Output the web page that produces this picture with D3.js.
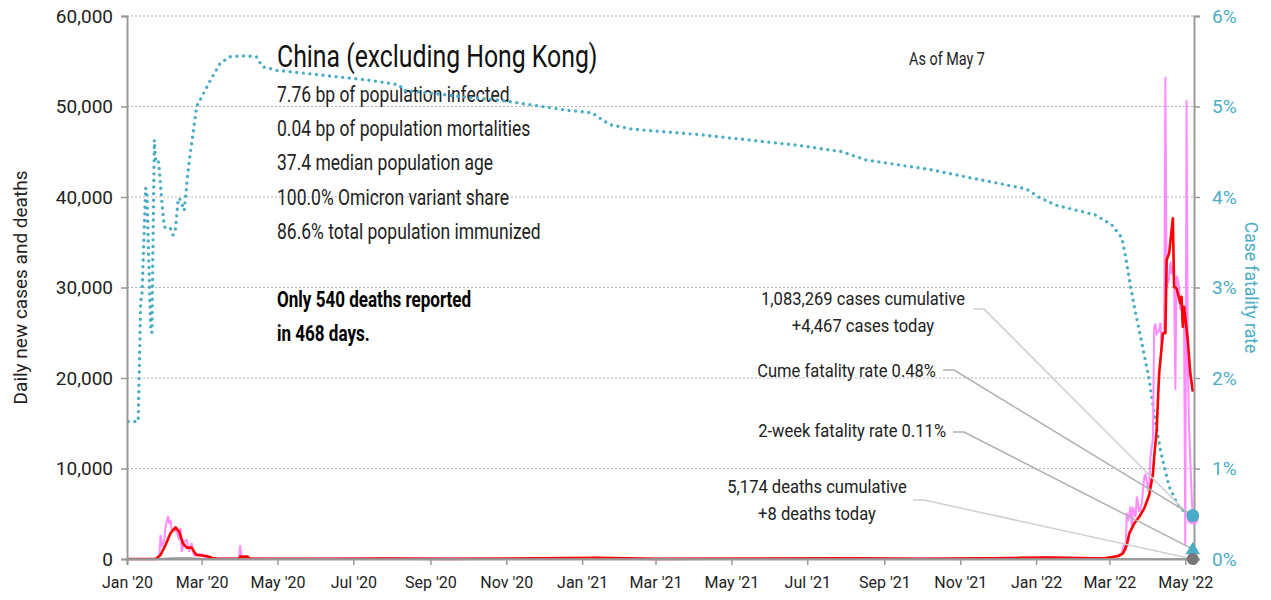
<!DOCTYPE html>
<html>
<head>
<meta charset="utf-8">
<script src="https://cdn.jsdelivr.net/npm/d3@7"></script>
<style>
	body { margin: 0; background: #fff; }
	text { font-family: Roboto, "Noto Sans", sans-serif; }
</style>
</head>
<body>
<div class="chart"></div>
<script>
// ---- values ----
var titleText = 'China (excluding Hong Kong)';
var asOfText = 'As of May 7';
var infoLines = [
	'7.76 bp of population infected',
	'0.04 bp of population mortalities',
	'37.4 median population age',
	'100.0% Omicron variant share',
	'86.6% total population immunized'
];
var noteLines = ['Only 540 deaths reported', 'in 468 days.'];

var casesCume = 1083269;
var casesToday = 4467;
var deathsCume = 5174;
var deathsToday = 8;
var cfrCume = 0.48;
var cfr2wk = 0.11;

var leftTicks = [0, 10000, 20000, 30000, 40000, 50000, 60000];
var rightTicks = [0, 1, 2, 3, 4, 5, 6];
var xTicks = ['2020-01-01', '2020-03-01', '2020-05-01', '2020-07-01', '2020-09-01', '2020-11-01',
	'2021-01-01', '2021-03-01', '2021-05-01', '2021-07-01', '2021-09-01', '2021-11-01',
	'2022-01-01', '2022-03-01', '2022-05-01'];

// daily new cases (pink)
var casesDates = ['2020-01-01', '2020-01-24', '2020-01-27', '2020-01-28', '2020-01-29', '2020-01-31',
	'2020-02-01', '2020-02-03', '2020-02-04', '2020-02-05', '2020-02-06', '2020-02-08', '2020-02-10',
	'2020-02-12', '2020-02-13', '2020-02-14', '2020-02-16', '2020-02-18', '2020-02-19', '2020-02-20',
	'2020-02-22', '2020-02-23', '2020-02-24', '2020-02-27', '2020-03-01', '2020-03-03', '2020-03-07',
	'2020-03-11', '2020-03-19', '2020-03-31', '2020-04-01', '2020-04-02', '2020-04-09', '2020-05-01',
	'2020-06-15', '2020-07-28', '2020-09-15', '2020-12-20', '2021-01-12', '2021-01-20', '2021-03-01',
	'2021-06-10', '2021-08-05', '2021-10-01', '2021-11-05', '2021-12-20', '2022-01-10', '2022-02-15',
	'2022-03-01', '2022-03-08', '2022-03-11', '2022-03-13', '2022-03-14', '2022-03-15', '2022-03-16',
	'2022-03-18', '2022-03-19', '2022-03-20', '2022-03-22', '2022-03-23', '2022-03-25', '2022-03-27',
	'2022-03-29', '2022-03-30', '2022-04-01', '2022-04-02', '2022-04-03', '2022-04-05', '2022-04-06',
	'2022-04-07', '2022-04-08', '2022-04-10', '2022-04-11', '2022-04-12', '2022-04-13', '2022-04-14',
	'2022-04-15', '2022-04-16', '2022-04-18', '2022-04-19', '2022-04-20', '2022-04-21', '2022-04-22',
	'2022-04-23', '2022-04-24', '2022-04-25', '2022-04-26', '2022-04-27', '2022-04-28', '2022-04-29',
	'2022-04-30', '2022-05-01', '2022-05-02', '2022-05-03', '2022-05-04', '2022-05-05', '2022-05-06',
	'2022-05-07'];
var casesValues = [0, 0, 300, 2650, 1360, 2100,
	3570, 4750, 3900, 4310, 3200, 3200, 3020,
	2100, 3425, 800, 1910, 2100, 1400, 800,
	1770, 800, 400, 550, 500, 250, 150,
	50, 30, 30, 1550, 100, 60, 10,
	40, 100, 15, 20, 140, 110, 10,
	25, 120, 30, 70, 150, 200, 100,
	150, 300, 700, 1750, 900, 5100, 4200,
	5800, 3600, 5700, 4600, 6900, 5200, 6100,
	9100, 9300, 7800, 8200, 11300, 13400, 25600,
	26000, 24900, 25300, 26100, 23000, 24900, 25200,
	53300, 30100, 31000, 32850, 31500, 32400, 30600,
	18700, 31300, 30900, 30100, 27500, 28500, 27500,
	26000, 1500, 50700, 22000, 14600, 11000, 7500,
	4467];

// 7-day average of new cases (red)
var avgDates = ['2020-01-01', '2020-01-24', '2020-01-28', '2020-02-01', '2020-02-05', '2020-02-09',
	'2020-02-12', '2020-02-15', '2020-02-18', '2020-02-22', '2020-02-24', '2020-02-26', '2020-03-05',
	'2020-03-09', '2020-03-13', '2020-03-31', '2020-04-01', '2020-04-07', '2020-04-09', '2020-06-15',
	'2020-07-28', '2020-09-15', '2021-01-12', '2021-01-25', '2021-03-01', '2021-08-05', '2021-10-01',
	'2021-12-20', '2022-01-10', '2022-02-15', '2022-02-25', '2022-03-08', '2022-03-12', '2022-03-15',
	'2022-03-17', '2022-03-21', '2022-03-25', '2022-03-29', '2022-04-02', '2022-04-05', '2022-04-06',
	'2022-04-08', '2022-04-09', '2022-04-10', '2022-04-12', '2022-04-13', '2022-04-15', '2022-04-16',
	'2022-04-18', '2022-04-21', '2022-04-22', '2022-04-24', '2022-04-25', '2022-04-27', '2022-04-28',
	'2022-04-29', '2022-04-30', '2022-05-03', '2022-05-05', '2022-05-07'];
var avgValues = [0, 0, 440, 1550, 2870, 3500,
	3020, 1730, 1260, 1260, 810, 440, 330,
	145, 20, 30, 260, 260, 30, 20,
	60, 15, 120, 100, 10, 90, 30,
	120, 170, 90, 80, 330, 630, 1550,
	2840, 3940, 4670, 5600, 7070, 9470, 11300,
	14250, 17570, 20520, 23460, 24940, 24940, 33040,
	33780, 37650, 30090, 29910, 29360, 28250, 28980,
	25670, 27880, 24200, 20550, 18490];

// daily deaths (gray)
var deathDates = ['2020-01-01', '2020-01-24', '2020-02-01', '2020-02-10', '2020-02-20', '2020-03-01',
	'2020-03-15', '2020-04-01', '2020-05-01', '2022-03-15', '2022-04-20', '2022-05-07'];
var deathValues = [0, 0, 45, 100, 115, 40, 10, 5, 0, 0, 10, 8];

// case fatality rate, percent (teal dotted)
var cfrDates = ['2020-01-02', '2020-01-10', '2020-01-12', '2020-01-13', '2020-01-16', '2020-01-17',
	'2020-01-20', '2020-01-21', '2020-01-23', '2020-01-24', '2020-01-26', '2020-01-27', '2020-01-29',
	'2020-01-31', '2020-02-03', '2020-02-05', '2020-02-07', '2020-02-09', '2020-02-11', '2020-02-12',
	'2020-02-14', '2020-02-16', '2020-02-17', '2020-02-19', '2020-02-21', '2020-02-23', '2020-02-26',
	'2020-03-02', '2020-03-08', '2020-03-16', '2020-03-24', '2020-04-05', '2020-04-14', '2020-04-19',
	'2020-04-30', '2020-05-21', '2020-07-14', '2020-08-07', '2020-08-10', '2020-10-02', '2020-10-27',
	'2020-12-19', '2021-01-09', '2021-01-23', '2021-02-10', '2021-04-05', '2021-06-24', '2021-07-29',
	'2021-08-17', '2021-10-09', '2021-11-10', '2021-12-02', '2021-12-24', '2022-01-03', '2022-01-17',
	'2022-02-18', '2022-03-03', '2022-03-11', '2022-03-14', '2022-03-18', '2022-03-22', '2022-03-27',
	'2022-04-02', '2022-04-06', '2022-04-11', '2022-04-18', '2022-04-26', '2022-05-04', '2022-05-07'];
var cfrValues = [1.52, 1.52, 2.85, 2.9, 4.1, 4.05,
	2.55, 2.5, 4.63, 4.4, 4.41, 4.3, 3.95,
	3.67, 3.64, 3.65, 3.58, 3.65, 3.95, 3.99,
	3.93, 3.85, 3.99, 4.27, 4.5, 4.69, 5.0,
	5.13, 5.29, 5.48, 5.55, 5.56, 5.55, 5.44,
	5.4, 5.37, 5.29, 5.24, 5.18, 5.1, 5.07,
	4.96, 4.93, 4.8, 4.75, 4.69, 4.57, 4.5,
	4.41, 4.3, 4.21, 4.15, 4.09, 4.0, 3.91,
	3.8, 3.69, 3.55, 3.34, 3.01, 2.72, 2.39,
	1.98, 1.61, 1.2, 0.8, 0.57, 0.49, 0.48];

// ---- chart ----
var svgWidth = 1271;
var svgHeight = 600;
var margin = { top: 16, right: 77, bottom: 41, left: 127 };
var width = svgWidth - margin.left - margin.right;
var height = svgHeight - margin.top - margin.bottom;

var teal = '#4bacc6';
var pink = '#ff8cff';
var red = '#ff0000';
var ink = '#222';

var parse = d3.timeParse('%Y-%m-%d');
var fmt = d3.format(',');

function zip(dates, values) {
	return dates.map(function(d, i) { return { date: parse(d), value: values[i] }; });
}

var cases = zip(casesDates, casesValues);
var avg = zip(avgDates, avgValues);
var deaths = zip(deathDates, deathValues);
var cfr = zip(cfrDates, cfrValues);
var lastDate = parse('2022-05-07');

var svg = d3.select('.chart').append('svg')
	.attr('width', svgWidth)
	.attr('height', svgHeight);

var chart = svg.append('g')
	.attr('transform', `translate(${margin.left}, ${margin.top})`);

var x = d3.scaleTime().domain([parse('2020-01-01'), parse('2022-05-08')]).range([0, width]);
var yLeft = d3.scaleLinear().domain([0, 60000]).range([height, 0]);
var yRight = d3.scaleLinear().domain([0, 6]).range([height, 0]);

// squeeze text sideways to get a condensed face
function squeeze(sel, px, py, sx) {
	return sel.attr('transform', 'translate(' + px + ',' + py + ') scale(' + sx + ',1)');
}

// grid lines
chart.append('g').selectAll('line')
	.data(leftTicks.filter(function(d) { return d > 0; }))
	.enter().append('line')
	.attr('x1', 0).attr('x2', width)
	.attr('y1', function(d) { return yLeft(d); })
	.attr('y2', function(d) { return yLeft(d); })
	.attr('stroke', '#b5b5b5')
	.attr('stroke-width', 1)
	.attr('stroke-dasharray', '2,2');

// header text
squeeze(chart.append('text'), 150, 51, 0.8)
	.style('font-size', '31px').attr('fill', '#111').text(titleText);

chart.append('g').selectAll('text')
	.data(infoLines).enter().append('text')
	.each(function(d, i) { squeeze(d3.select(this), 150, 86 + i * 34.2, 0.795); })
	.style('font-size', '22px').attr('fill', ink)
	.text(function(d) { return d; });

chart.append('g').selectAll('text')
	.data(noteLines).enter().append('text')
	.each(function(d, i) { squeeze(d3.select(this), 150, 291 + i * 33.5, 0.775); })
	.style('font-size', '22px').style('font-weight', 700).attr('fill', '#000')
	.text(function(d) { return d; });

squeeze(chart.append('text'), 820, 49, 0.8)
	.attr('text-anchor', 'middle')
	.style('font-size', '18px').attr('fill', ink).text(asOfText);

// series
var cfrLine = d3.line()
	.x(function(d) { return x(d.date); })
	.y(function(d) { return yRight(d.value); });
var leftLine = d3.line()
	.x(function(d) { return x(d.date); })
	.y(function(d) { return yLeft(d.value); });

chart.append('path').datum(cfr)
	.attr('d', cfrLine)
	.attr('fill', 'none')
	.attr('stroke', teal)
	.attr('stroke-width', 3.4)
	.attr('stroke-linecap', 'round')
	.attr('stroke-dasharray', '0,6.6');

chart.append('path').datum(cases)
	.attr('d', leftLine)
	.attr('fill', 'none')
	.attr('stroke', pink)
	.attr('stroke-width', 2);

chart.append('path').datum(avg)
	.attr('d', leftLine)
	.attr('fill', 'none')
	.attr('stroke', red)
	.attr('stroke-width', 2.6)
	.attr('stroke-linejoin', 'round');

chart.append('path').datum(deaths)
	.attr('d', leftLine)
	.attr('fill', 'none')
	.attr('stroke', '#888')
	.attr('stroke-width', 1.5);

// call-outs with leader lines to the last values
var xEnd = x(lastDate);
var callouts = [
	{ lines: [fmt(casesCume) + ' cases cumulative', '+' + fmt(casesToday) + ' cases today'],
		tx: 736, ty: 289, anchor: 'middle', lx: 846, ly: 293, end: yLeft(casesToday), color: '#cfcfcf' },
	{ lines: ['Cume fatality rate ' + cfrCume.toFixed(2) + '%'],
		tx: 809, ty: 361, anchor: 'end', lx: 816, ly: 354, end: yRight(cfrCume), color: '#b0b0b0' },
	{ lines: ['2-week fatality rate ' + cfr2wk.toFixed(2) + '%'],
		tx: 819, ty: 421, anchor: 'end', lx: 826, ly: 416, end: yRight(cfr2wk), color: '#b0b0b0' },
	{ lines: [fmt(deathsCume) + ' deaths cumulative', '+' + deathsToday + ' deaths today'],
		tx: 690, ty: 477, anchor: 'middle', lx: 786, ly: 484, end: yLeft(0), color: '#d0d0d0' }
];

callouts.forEach(function(c) {
	chart.append('path')
		.attr('d', d3.line()([[c.lx, c.ly], [c.lx + 11, c.ly], [xEnd, c.end]]))
		.attr('fill', 'none')
		.attr('stroke', c.color)
		.attr('stroke-width', 1.5);
	c.lines.forEach(function(t, i) {
		squeeze(chart.append('text'), c.tx, c.ty + i * 26.5, 0.92)
			.attr('text-anchor', c.anchor)
			.style('font-size', '18px').attr('fill', ink).text(t);
	});
});

// axes
var bottomAxis = d3.axisBottom(x)
	.tickValues(xTicks.map(parse))
	.tickFormat(d3.timeFormat("%b '%y"))
	.tickSize(6).tickPadding(12);
var leftAxis = d3.axisLeft(yLeft).tickValues(leftTicks).tickFormat(fmt).tickSize(6).tickPadding(8);
var rightAxis = d3.axisRight(yRight).tickValues(rightTicks)
	.tickFormat(function(d) { return d + '%'; }).tickSize(6).tickPadding(12);

function styleAxis(g, color) {
	g.select('.domain').attr('stroke', '#999').attr('stroke-width', 2);
	g.selectAll('.tick line').attr('stroke', '#999').attr('stroke-width', 1.5);
	g.selectAll('.tick text').attr('fill', color).style('font-family', 'Roboto, sans-serif');
}

chart.append('g').call(leftAxis).call(styleAxis, ink)
	.selectAll('.tick text').style('font-size', '19px');
chart.append('g').attr('transform', `translate(${width}, 0)`).call(rightAxis).call(styleAxis, teal)
	.selectAll('.tick text').style('font-size', '19px');
chart.append('g').attr('transform', `translate(0, ${height})`).call(bottomAxis).call(styleAxis, ink)
	.selectAll('.tick text').style('font-size', '16px');

// end markers
chart.append('circle').attr('cx', xEnd).attr('cy', yLeft(casesToday)).attr('r', 6).attr('fill', pink);
chart.append('circle').attr('cx', xEnd).attr('cy', yRight(cfrCume)).attr('r', 6.5).attr('fill', teal);
chart.append('path')
	.attr('d', d3.symbol().type(d3.symbolTriangle).size(90)())
	.attr('transform', `translate(${xEnd}, ${yRight(cfr2wk) + 1})`)
	.attr('fill', teal);
chart.append('circle').attr('cx', xEnd).attr('cy', yLeft(deathsToday)).attr('r', 6).attr('fill', '#777');

// axis titles
chart.append('text')
	.attr('transform', 'translate(' + (27 - margin.left) + ',' + (height / 2) + ') rotate(-90)')
	.attr('text-anchor', 'middle')
	.style('font-size', '19px').attr('fill', ink)
	.text('Daily new cases and deaths');

chart.append('text')
	.attr('transform', 'translate(' + (width + 51) + ',' + (height / 2) + ') rotate(90)')
	.attr('text-anchor', 'middle')
	.style('font-size', '17.5px').attr('fill', teal)
	.text('Case fatality rate');
</script>
</body>
</html>
